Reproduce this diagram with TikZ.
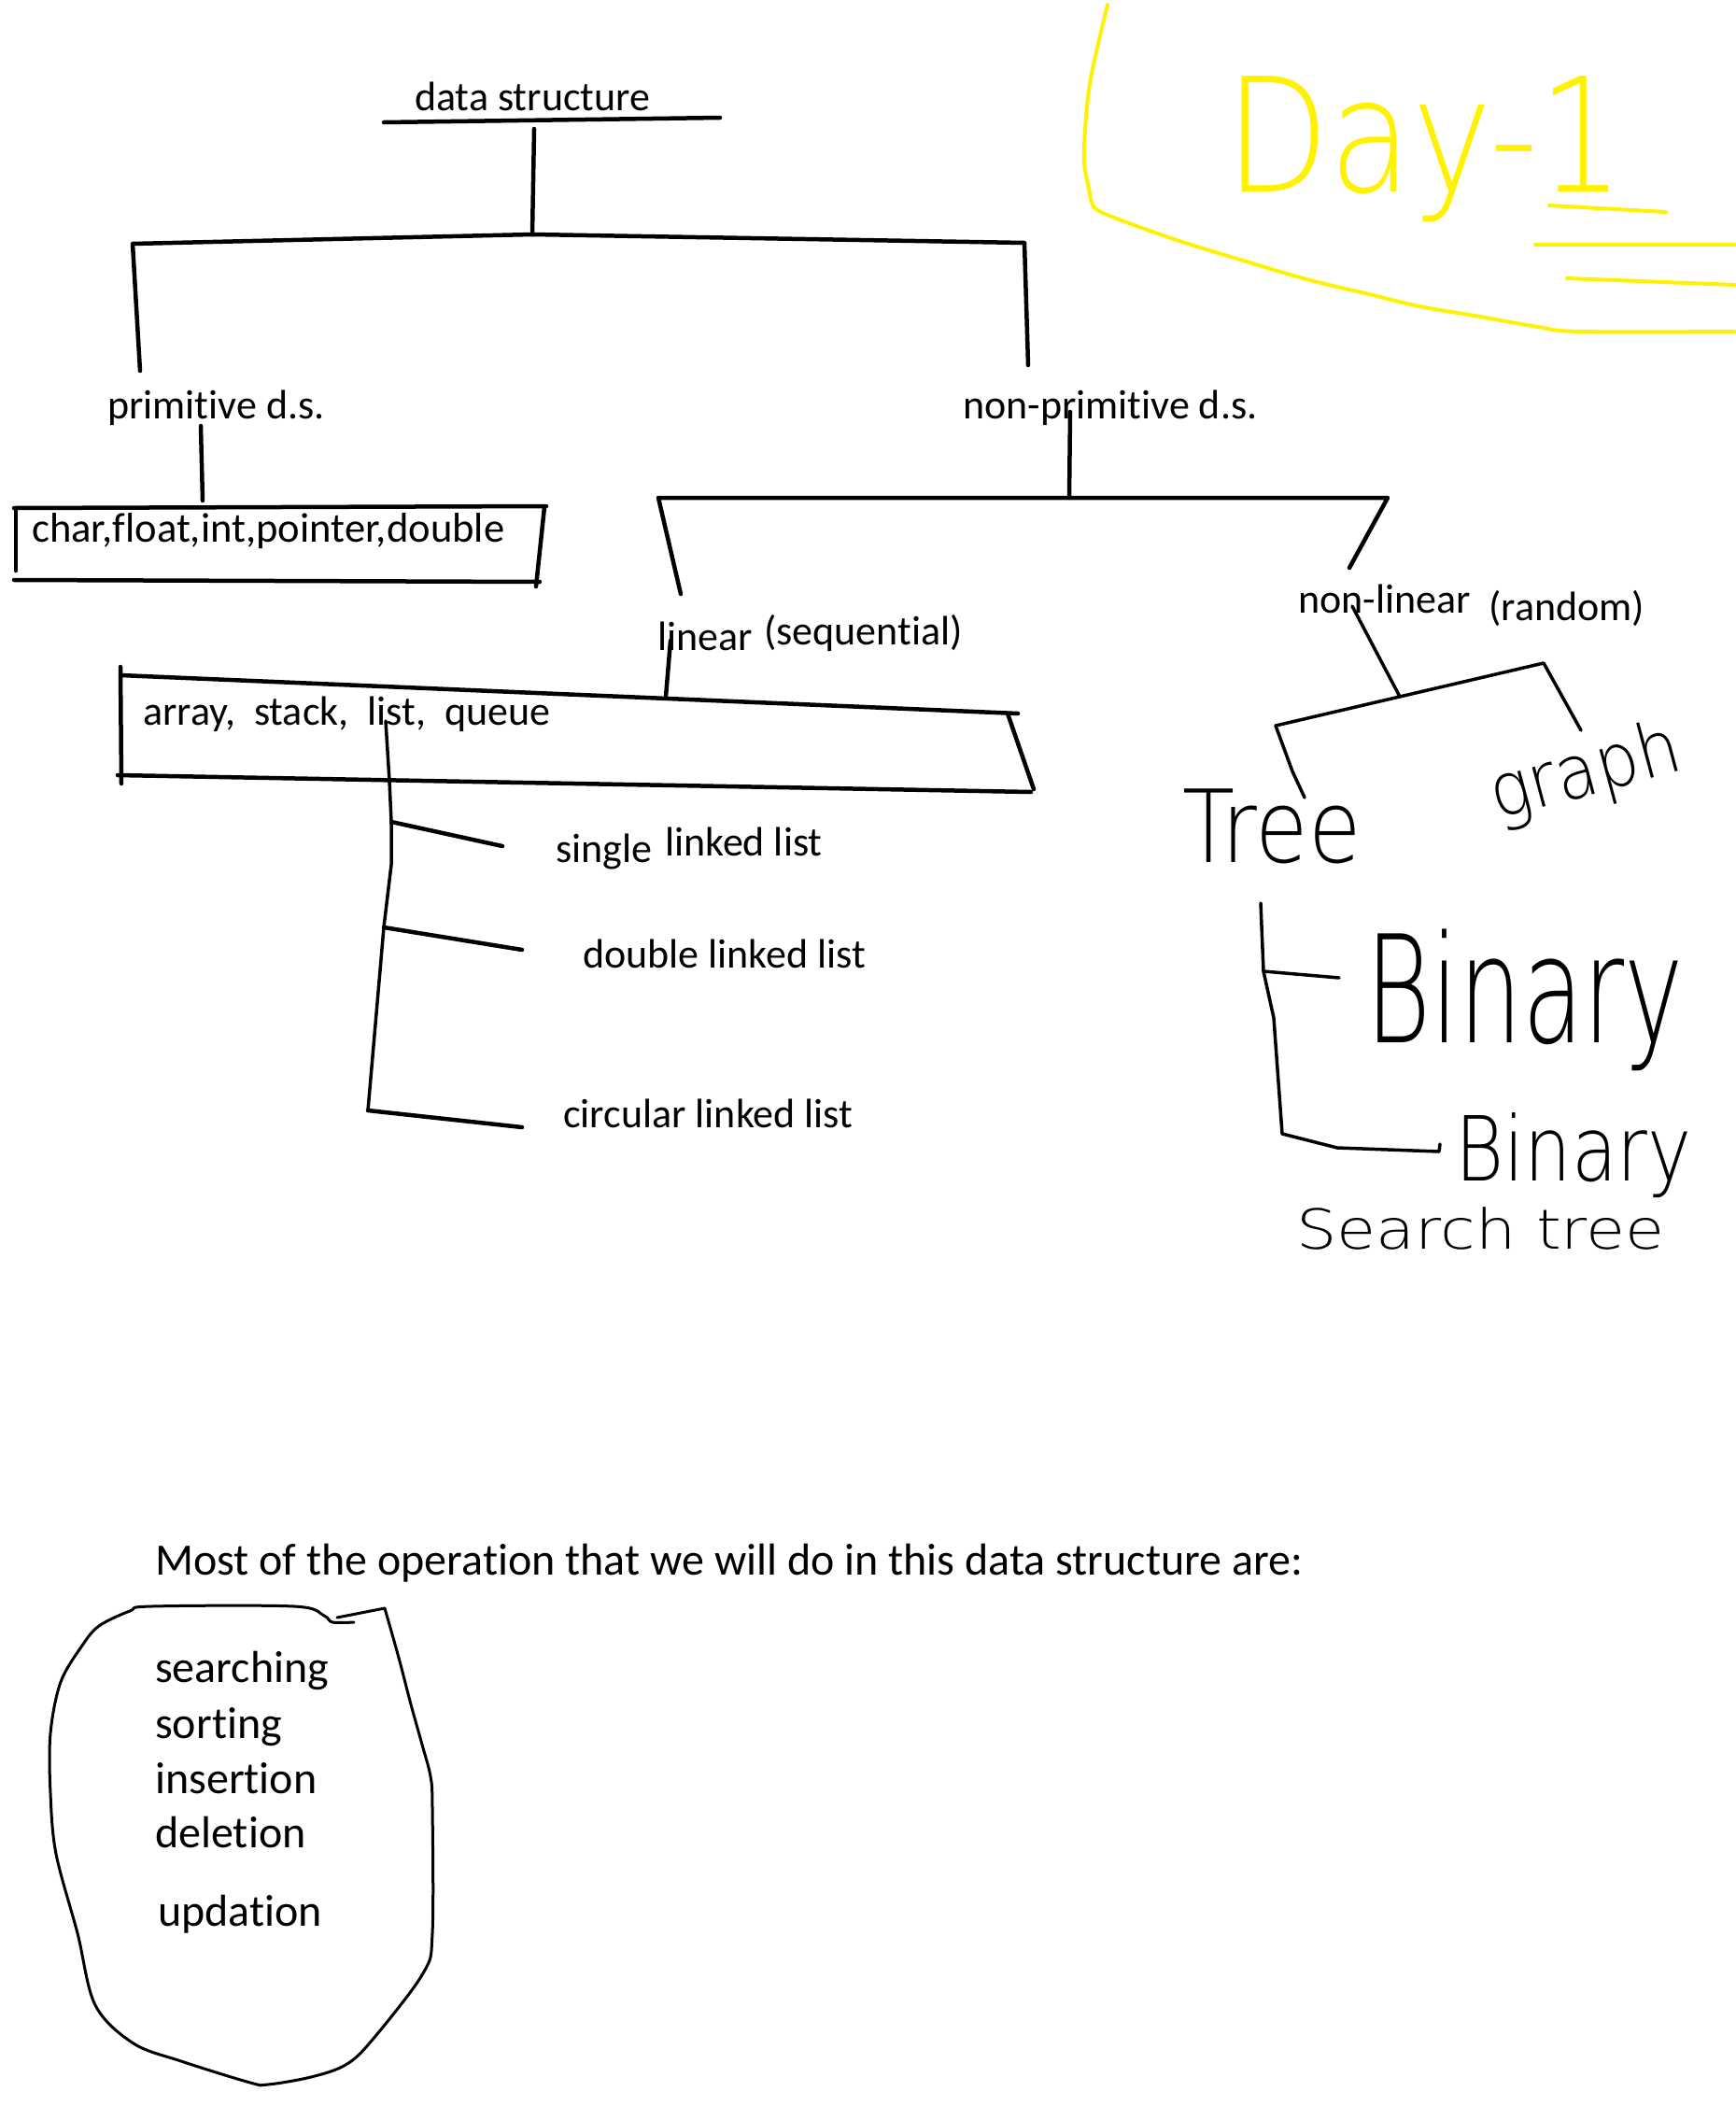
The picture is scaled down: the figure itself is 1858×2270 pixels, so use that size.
\documentclass[tikz,border=0pt]{standalone}
\usepackage{fontspec}
\setmainfont{Carlito}[Ligatures=NoCommon]
\newfontfamily\hand{DejaVu Sans ExtraLight}
\definecolor{paintyellow}{RGB}{255,242,0}
\begin{document}
\begin{tikzpicture}[x=1pt,y=-1pt,
  pen/.style={line width=4.5pt,line cap=round,line join=round},
  fine/.style={line width=3.5pt,line cap=round,line join=round},
  outline/.style={line width=3pt,line cap=round,line join=round},
  marker/.style={line width=4pt,draw=paintyellow,line cap=round,line join=round},
  lbl/.style={anchor=base west,inner sep=0pt,font=\fontsize{44}{52}\selectfont},
  big/.style={anchor=base west,inner sep=0pt,font=\fontsize{48}{56}\selectfont},
  script/.style={anchor=base west,inner sep=0pt}]

\fill[white] (0,0) rectangle (1858,2270);
\useasboundingbox (0,0) rectangle (1858,2270);

% ---------- title tag ----------
\node[script,text=paintyellow,font=\hand\fontsize{170}{170}\selectfont] (day) at (1312,205) {\scalebox{0.85}[1]{Day-1}};
\draw[marker] plot[smooth,tension=0.6] coordinates {(1186,5) (1179,34) (1168,84) (1163,125) (1161,172) (1166,202) (1170,219) (1179,227) (1209,239) (1263,258) (1331,279) (1403,300) (1466,315) (1520,328) (1579,338) (1647,350) (1692,355) (1858,355)};
\coordinate (oneL) at (1659,220); \coordinate (oneR) at (1784,227);
\draw[marker] (oneL) -- (oneR);
\coordinate (u1L) at (1644,262); \coordinate (u1R) at (1858,262);
\coordinate (u2L) at (1678,298); \coordinate (u2R) at (1858,305);
\draw[marker] (u1L) -- (u1R);
\draw[marker] (u2L) -- (u2R);

% ---------- root ----------
\node[lbl] (ds) at (444,118) {data structure};
\coordinate (ulL) at (411,131); \coordinate (ulR) at (771,126);
\draw[pen] (ulL) -- (ulR);
\coordinate (rootTop) at (572,138); \coordinate (rootMid) at (570,251);
\coordinate (barL) at (142,261); \coordinate (barR) at (1097,260);
\coordinate (legL) at (150,397); \coordinate (legR) at (1101,391);
\draw[pen] (rootTop) -- (rootMid);
\draw[pen] (legL) -- (barL) -- (rootMid) -- (barR) -- (legR);

% ---------- primitive ----------
\node[lbl] (prim) at (115,448) {primitive d.s.};
\coordinate (pTop) at (215,456); \coordinate (pBot) at (217,536);
\draw[pen] (pTop) -- (pBot);
\node[lbl,font=\fontsize{44.6}{52}\selectfont] (types) at (34,580) {char,float,int,pointer,double};
\coordinate (bx1) at (15,544); \coordinate (bx2) at (585,542);
\coordinate (bx3) at (17,545); \coordinate (bx4) at (17,611);
\coordinate (bx5) at (15,621); \coordinate (bx6) at (578,623);
\coordinate (bx7) at (583,543); \coordinate (bx8) at (574,628);
\draw[pen] (bx1) -- (bx2);
\draw[pen] (bx3) -- (bx4);
\draw[pen] (bx5) -- (bx6);
\draw[pen] (bx7) -- (bx8);

% ---------- non-primitive ----------
\node[lbl] (nprim) at (1031,448) {non-primitive d.s.};
\coordinate (npTop) at (1146,441); \coordinate (npMid) at (1145,533);
\coordinate (npL) at (705,533); \coordinate (npR) at (1486,533);
\coordinate (linLeg) at (729,636); \coordinate (nlLeg) at (1445,608);
\draw[pen] (npTop) -- (npMid);
\draw[pen] (linLeg) -- (npL) -- (npR) -- (nlLeg);

% ---------- linear ----------
\node[lbl] (lin) at (704,696) {linear};
\node[lbl] (seq) at (818,690) {(sequential)};
\coordinate (linTop) at (718,686); \coordinate (linBot) at (713,746);
\draw[pen] (linTop) -- (linBot);
\node[lbl] (lst) at (153,776) {array,\ \ stack,\ \ list,\ \ queue};
\coordinate (ab1) at (129,723); \coordinate (ab2) at (1090,764);
\coordinate (ab3) at (129,714); \coordinate (ab4) at (130,839);
\coordinate (ab5) at (126,830); \coordinate (ab6) at (1104,848);
\coordinate (ab7) at (1079,764); \coordinate (ab8) at (1107,845);
\draw[pen] (ab1) -- (ab2);
\draw[pen] (ab3) -- (ab4);
\draw[pen] (ab5) -- (ab6);
\draw[pen] (ab7) -- (ab8);

% linked list kinds
\coordinate (ll0) at (413,772); \coordinate (ll1) at (417,836);
\coordinate (ll2) at (419,880); \coordinate (ll3) at (411,993);
\coordinate (ll4) at (394,1189);
\draw[fine] (ll0) -- (ll1) -- (ll2) -- (419,926) -- (ll3) -- (ll4);
\coordinate (sgl) at (538,906); \coordinate (dbl) at (559,1017); \coordinate (cir) at (559,1207);
\draw[pen] (ll2) -- (sgl);
\draw[pen] (ll3) -- (dbl);
\draw[pen] (ll4) -- (cir);
\node[lbl] (single) at (595,923) {single};
\node[lbl] (linked) at (712,916) {linked list};
\node[lbl] (double) at (624,1036) {double linked list};
\node[lbl] (circ) at (603,1207) {circular linked list};

% ---------- non-linear ----------
\node[lbl] (nlin) at (1390,656) {non-linear};
\node[lbl] (rand) at (1594,664) {(random)};
\coordinate (nlTop) at (1448,649); \coordinate (nlMid) at (1499,746);
\coordinate (trL) at (1366,777); \coordinate (trR) at (1653,710);
\coordinate (treeLeg) at (1397,854); \coordinate (graphLeg) at (1693,782);
\draw[fine] (nlTop) -- (nlMid);
\draw[fine] (trL) -- (trR);
\draw[fine] (trL) -- (1384,826) -- (treeLeg);
\draw[fine] (trR) -- (graphLeg);

\node[script,font=\hand\fontsize{108}{108}\selectfont] (tree) at (1266,923) {\scalebox{0.85}[1]{Tree}};
\node[script,font=\hand\fontsize{80}{80}\selectfont,rotate=15] (graph) at (1603,878) {\scalebox{0.9}[1]{graph}};

\coordinate (t0) at (1350,967); \coordinate (t1) at (1353,1040);
\coordinate (t2) at (1364,1090); \coordinate (t3) at (1373,1214);
\coordinate (t4) at (1432,1229); \coordinate (t5) at (1541,1233);
\coordinate (t6) at (1542,1225); \coordinate (bin1) at (1434,1047);
\draw[fine] (t0) -- (t1) -- (t2) -- (t3) -- (t4) -- (t5) -- (t6);
\draw[fine] (t1) -- (bin1);
\node[script,font=\hand\fontsize{160}{160}\selectfont] (binary) at (1462,1116) {\scalebox{0.67}[1]{Binary}};
\node[script,font=\hand\fontsize{96}{96}\selectfont] (bst) at (1558,1264) {\scalebox{0.83}[1]{Binary}};
\node[script,font=\hand\fontsize{59}{59}\selectfont] (bst2) at (1388,1337) {\scalebox{1.16}[1]{Search tree}};

% ---------- operations ----------
\node[big] (ops) at (166,1686) {Most of the operation that we will do in this data structure are:};
\draw[outline] plot[smooth,tension=0.55] coordinates {(379,1737) (356,1737) (347,1730) (315,1720) (162,1720) (139,1725) (106,1741) (88,1762) (65,1801) (54,1856) (54,1920) (60,1985) (83,2070) (102,2147) (143,2188) (194,2207) (268,2230) (287,2232) (333,2224) (370,2211) (398,2185) (453,2113) (463,2070) (463,1935) (461,1902) (452,1868) (440,1825) (427,1775) (412,1722)};
\coordinate (tipA) at (412,1722); \coordinate (tipB) at (361,1732);
\draw[outline] (tipA) -- (tipB);
\node[big] (o1) at (166,1801) {searching};
\node[big] (o2) at (166,1861) {sorting};
\node[big] (o3) at (166,1920) {insertion};
\node[big] (o4) at (166,1978) {deletion};
\node[big] (o5) at (169,2062) {updation};
\end{tikzpicture}
\end{document}
